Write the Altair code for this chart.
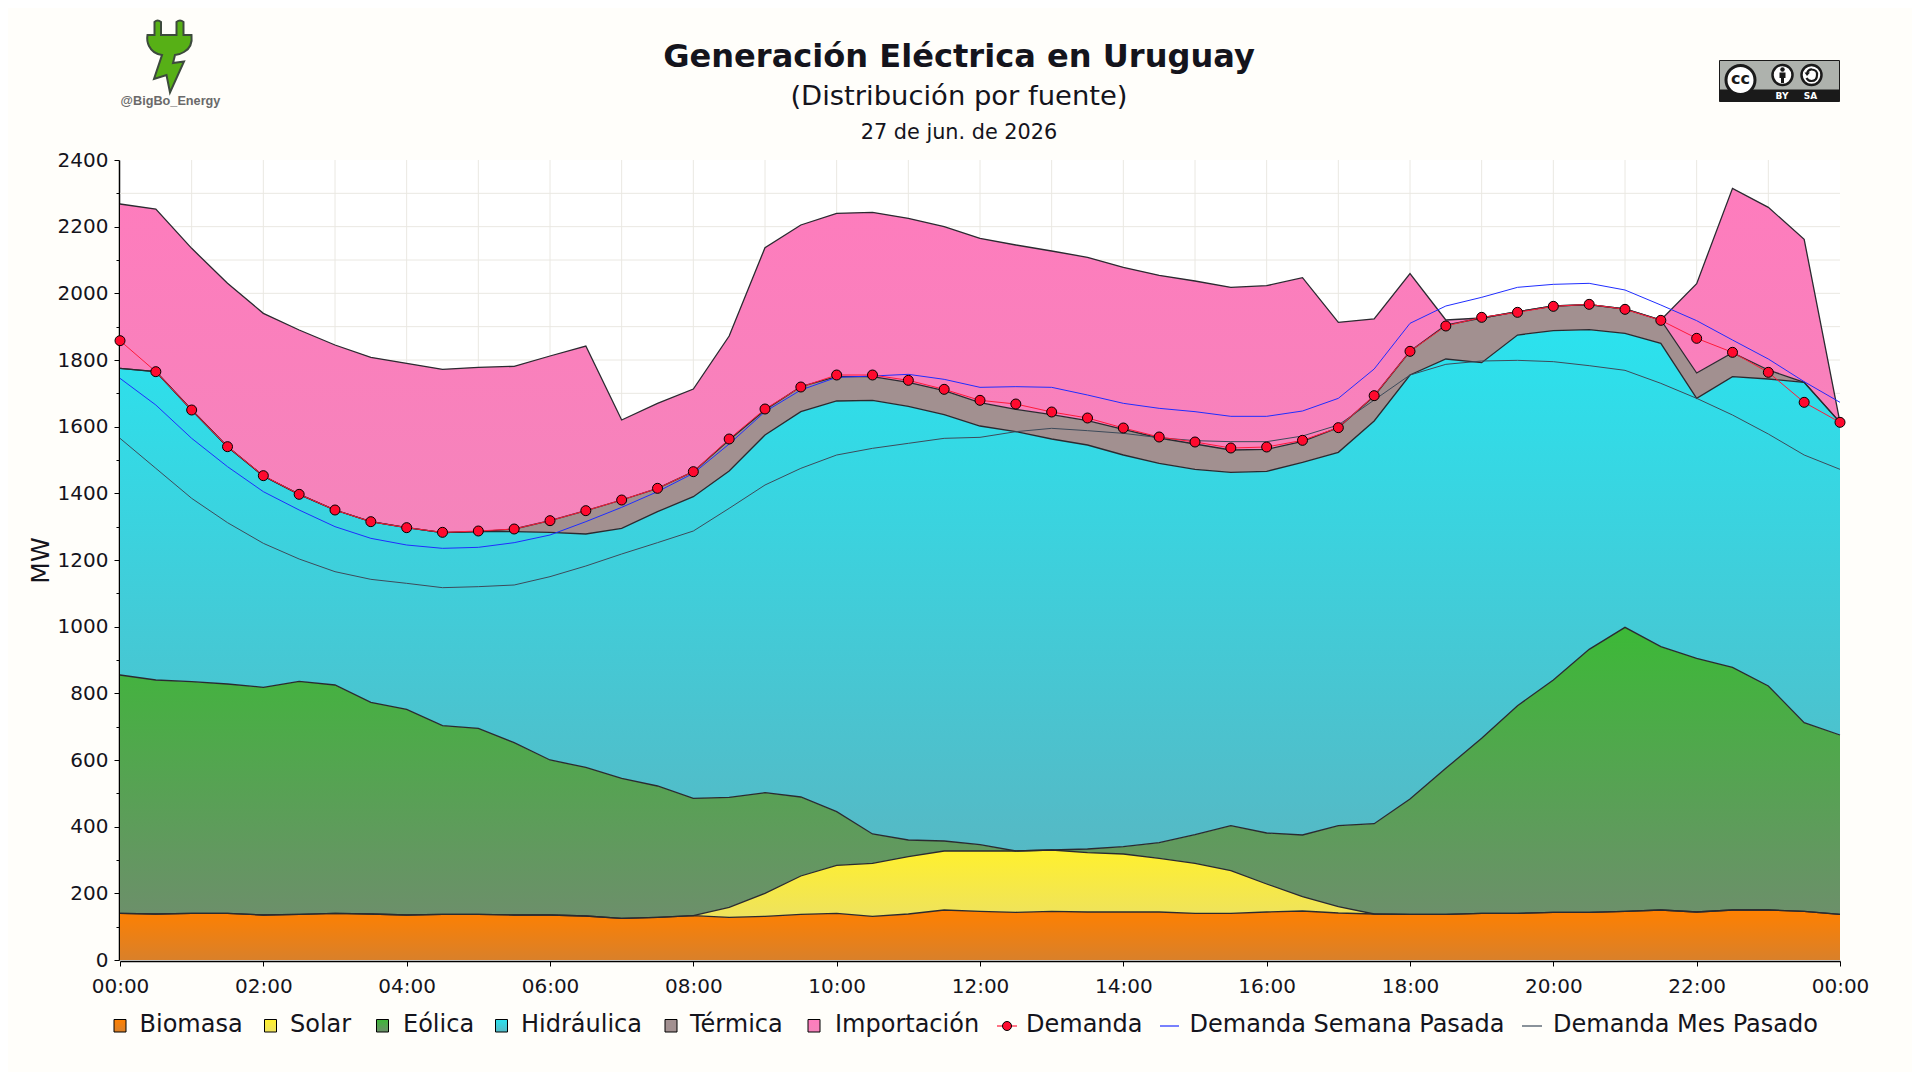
import re
import altair as alt
import pandas as pd

FONT = "DejaVu Sans"
BG = "#fffefa"
INK = "#14141c"
PLOT_W, PLOT_H = 1720, 800
LEFT, TOP = 120, 160   # page position of the plot area

# Values, half-hourly, 00:00 to 24:00. Stacked areas are given by their upper edge (MW).
biomasa_top = [140,138,140,140,135,137,140,138,135,137,137,135,135,132,125,128,133,128,131,137,140,131,138,150,146,143,146,144,144,144,140,140,144,147,141,138,137,137,140,140,143,143,146,150,144,150,150,146,137]
solar_top = [140,138,140,140,135,137,140,138,135,137,137,135,135,132,125,128,133,158,200,252,284,290,310,327,327,327,330,322,318,305,290,268,228,190,160,138,137,137,140,140,143,143,146,150,144,150,150,146,137]
eolica_top = [855,840,835,828,818,836,825,773,752,703,695,652,600,578,545,522,485,488,502,489,445,378,360,357,346,327,330,333,340,352,376,403,381,375,403,409,483,575,665,763,840,932,998,940,905,878,822,712,675]
hidraulica_top = [1775,1765,1650,1540,1452,1397,1350,1315,1297,1282,1285,1285,1283,1278,1295,1345,1390,1467,1575,1645,1677,1679,1661,1636,1602,1585,1563,1545,1515,1490,1472,1463,1466,1493,1523,1617,1755,1803,1792,1875,1888,1891,1880,1850,1685,1750,1743,1733,1613]
termica_top = [1775,1765,1650,1540,1452,1397,1350,1315,1297,1282,1285,1293,1318,1348,1380,1415,1465,1560,1650,1720,1750,1750,1733,1708,1672,1652,1636,1618,1592,1566,1548,1530,1532,1556,1597,1692,1826,1905,1926,1945,1962,1966,1953,1920,1761,1822,1770,1733,1613]
importacion_top = [2268,2253,2135,2030,1940,1890,1845,1808,1790,1772,1778,1781,1812,1842,1620,1670,1713,1872,2137,2205,2240,2243,2225,2200,2165,2145,2127,2108,2078,2054,2037,2018,2023,2047,1913,1923,2059,1920,1926,1945,1962,1966,1953,1920,2029,2315,2258,2162,1613]
demanda = [1858,1765,1650,1540,1453,1397,1350,1315,1297,1283,1287,1293,1318,1348,1380,1415,1465,1563,1653,1719,1755,1755,1739,1712,1679,1668,1644,1626,1596,1569,1554,1536,1539,1559,1597,1693,1826,1902,1928,1943,1961,1967,1952,1919,1865,1823,1763,1673,1613]
semana_pasada = [1745,1665,1565,1480,1405,1350,1300,1265,1245,1235,1238,1252,1275,1315,1358,1405,1460,1548,1645,1710,1748,1752,1757,1742,1718,1720,1718,1695,1670,1655,1645,1631,1631,1647,1685,1773,1910,1962,1988,2018,2027,2030,2010,1965,1918,1860,1803,1735,1673]
mes_pasado = [1565,1475,1385,1312,1250,1203,1165,1142,1130,1117,1120,1125,1150,1182,1218,1252,1287,1355,1425,1475,1515,1535,1550,1565,1568,1585,1595,1588,1580,1567,1558,1555,1555,1572,1605,1680,1755,1787,1797,1799,1795,1783,1769,1730,1685,1635,1578,1515,1472]

legend_labels = ["Biomasa","Solar","Eólica","Hidráulica","Térmica","Importación","Demanda","Demanda Semana Pasada","Demanda Mes Pasado"]
title_text = "Generación Eléctrica en Uruguay"
subtitle_text = "(Distribución por fuente)"
date_text = "27 de jun. de 2026"
logo_text = "@BigBo_Energy"

times = pd.date_range("2026-06-27 00:00", periods=49, freq="30min")
df = pd.DataFrame({
    "t": times, "biomasa": biomasa_top, "solar": solar_top, "eolica": eolica_top,
    "hidraulica": hidraulica_top, "termica": termica_top, "importacion": importacion_top,
    "demanda": demanda, "semana": semana_pasada, "mes": mes_pasado,
})
df["base"] = 0
df["t"] = df["t"].dt.strftime("%Y-%m-%dT%H:%M:%S")


def dt(h):
    return alt.DateTime(year=2026, month=6, date=27 + h // 24, hours=h % 24)


x_enc = alt.X("t:T", title=None,
              scale=alt.Scale(domain=[dt(0), dt(24)], nice=False),
              axis=alt.Axis(values=[dt(h) for h in range(0, 25, 2)], format="%H:%M", grid=False,
                            offset=1, tickSize=5, tickColor="#000", domainColor="#000", domainWidth=1.5,
                            labelFont=FONT, labelFontSize=20, labelColor=INK, labelPadding=10.5,
                            labelOverlap=False, labelFlush=False))
y_axis = alt.Axis(values=list(range(0, 2401, 100)),
                  labelExpr="datum.value % 200 == 0 ? '' + datum.value : ''",
                  grid=False, offset=1, tickColor="#000", domainColor="#000", domainWidth=1.5,
                  tickSize={"condition": {"test": "datum.value % 200 == 0", "value": 5}, "value": 3},
                  labelFont=FONT, labelFontSize=20, labelColor=INK, labelPadding=6,
                  labelOverlap=False, labelFlush=False,
                  titleFont=FONT, titleFontSize=25, titleFontWeight="normal", titleColor=INK,
                  titlePadding=4)


def yl(f):
    return alt.Y(f"{f}:Q", title="MW", scale=alt.Scale(domain=[0, 2400], nice=False), axis=y_axis)


grid_h = alt.Chart(pd.DataFrame({"v": list(range(100, 2400, 100))})).mark_rule(color="#eae8e2", strokeWidth=1).encode(y=yl("v"))
grid_v = alt.Chart(pd.DataFrame({"t": [f"2026-06-27T{h:02d}:00:00" for h in range(1, 24)]})).mark_rule(color="#eae8e2", strokeWidth=1).encode(x=x_enc)


def grad(top, bottom):
    return alt.Gradient(gradient="linear", x1=0, x2=0, y1=0, y2=1,
                        stops=[alt.GradientStop(color=top, offset=0), alt.GradientStop(color=bottom, offset=1)])


series = [
    ("biomasa", "base", "#ff8000", "#d9802a"),
    ("solar", "biomasa", "#fff02e", "#eee25e"),
    ("eolica", "solar", "#3cb937", "#6d8f6b"),
    ("hidraulica", "eolica", "#2be2ee", "#55b9c5"),
    ("termica", "hidraulica", "#a29090", "#a29090"),
    ("importacion", "termica", "#fe7cbd", "#f584bb"),
]
layers = [grid_h, grid_v]
base = alt.Chart(df)
for top, low, c1, c2 in series:
    layers.append(base.mark_area(color=grad(c1, c2)).encode(x=x_enc, y=yl(top), y2=alt.Y2(f"{low}:Q")))
for top, _, _, _ in series:
    layers.append(base.mark_line(color="#2a2a30", strokeWidth=1.3).encode(x=x_enc, y=yl(top)))

layers.append(base.mark_line(color="#3d4a5a", strokeWidth=1).encode(x=x_enc, y=yl("mes")))
layers.append(base.mark_line(color="#1f2dff", strokeWidth=1).encode(x=x_enc, y=yl("semana")))
layers.append(base.mark_line(color="#ff1a3a", strokeWidth=1).encode(x=x_enc, y=yl("demanda")))
layers.append(base.mark_point(shape="circle", filled=True, fill="#ff0a2e", stroke="#000", strokeWidth=1, opacity=1, size=100, clip=False).encode(x=x_enc, y=yl("demanda")))

one = alt.Data(values=[{"a": 1}])


def pos(x, y):
    return dict(x=alt.value(x - LEFT), y=alt.value(y - TOP))


def txt(s, x, y, size, **kw):
    kw.setdefault("font", FONT)
    kw.setdefault("color", INK)
    kw.setdefault("baseline", "middle")
    kw.setdefault("align", "center")
    return alt.Chart(one).mark_text(fontSize=size, **kw).encode(text=alt.value(s), **pos(x, y))


def rect(x0, x1, y0, y1, **kw):
    return alt.Chart(one).mark_rect(**kw).encode(x=alt.value(x0 - LEFT), x2=alt.value(x1 - LEFT), y=alt.value(y0 - TOP), y2=alt.value(y1 - TOP))


def hline(x0, x1, y, color):
    return alt.Chart(one).mark_rule(color=color, strokeWidth=1.2).encode(x=alt.value(x0 - LEFT), x2=alt.value(x1 - LEFT), y=alt.value(y - TOP))


def dot(x, y, d, fill, stroke="#000", sw=1):
    return alt.Chart(one).mark_point(shape="circle", filled=True, fill=fill, stroke=stroke, strokeWidth=sw, opacity=1, size=d * d).encode(**pos(x, y))


def glyph(path, cx, cy, r, **kw):
    def f(m):
        return f"{(float(m[1]) - cx) / r:.4f},{(float(m[2]) - cy) / r:.4f}"
    shape = re.sub(r"(-?\d+\.?\d*),(-?\d+\.?\d*)", f, path)
    return alt.Chart(one).mark_point(shape=shape, opacity=1, size=(2 * r) ** 2, **kw).encode(**pos(cx, cy))


# legend row
LEG_Y = 1026
swatches = [(114, "#ff8000", "#d9802a", 139.5), (264.5, "#fff02e", "#eee25e", 290), (376.5, "#3cb937", "#6d8f6b", 403),
            (495.5, "#2be2ee", "#55b9c5", 521), (665, "#a29090", "#a29090", 690), (808, "#fe7cbd", "#f584bb", 835)]
for i, (sx, c1, c2, tx) in enumerate(swatches):
    layers.append(rect(sx, sx + 12, LEG_Y - 6.5, LEG_Y + 6, color=grad(c1, c2), stroke="#000", strokeWidth=1))
    layers.append(txt(legend_labels[i], tx, LEG_Y - 1, 24, align="left"))
layers += [hline(997, 1017, LEG_Y, "#ff1a3a"), dot(1007, LEG_Y, 9, "#ff0a2e"),
           txt(legend_labels[6], 1026, LEG_Y - 1, 24, align="left"),
           hline(1160, 1179, LEG_Y, "#1f2dff"), txt(legend_labels[7], 1189.5, LEG_Y - 1, 24, align="left"),
           hline(1522, 1542, LEG_Y, "#3d4a5a"), txt(legend_labels[8], 1553, LEG_Y - 1, 24, align="left")]

# date line under the subtitle
layers.append(txt(date_text, 959, 133, 20.8))

# plug logo
plug = ("M154.5,35 L154.5,22 Q157.5,19 161,22 L161,35 L176.5,35 L176.5,22 Q180,19 183.5,22 L183.5,35 L191.5,35 "
        "Q193,47 184,52 Q179,55 175,55 L173,63 L184,61.5 L170,92.5 L166.5,75 L154,79 L162,55 Q153,54 149,46 Q146.5,41 147.5,35 Z")
layers.append(glyph(plug, 169.5, 56, 40, filled=True, fill="#57b016", stroke="#3d4a3d", strokeWidth=2))
layers.append(txt(logo_text, 170.5, 100.5, 12.7, font="Liberation Sans", fontWeight="bold", color="#6a6a6a"))

# licence badge
layers += [rect(1719.5, 1839.5, 60.5, 101.5, color="#aeb2ad", stroke="#1a1a1a", strokeWidth=1),
           rect(1719.5, 1839.5, 89.5, 101.5, color="#1a1a1a"),
           dot(1740.5, 80, 29, "#ffffff", "#1a1a1a", 3),
           txt("cc", 1740.5, 78.5, 16, fontWeight="bold", color="#1a1a1a"),
           dot(1782.5, 75, 20, "#ffffff", "#1a1a1a", 2.5),
           dot(1782.5, 69.5, 4.5, "#1a1a1a", "#1a1a1a", 0),
           glyph("M1779.5,72.5 L1785.5,72.5 L1785.5,78 L1784,78 L1784,83 L1781,83 L1781,78 L1779.5,78 Z", 1782.5, 77, 7, filled=True, fill="#1a1a1a", strokeWidth=0),
           dot(1811.5, 75, 20, "#ffffff", "#1a1a1a", 2.5),
           glyph("M1807,73 Q1809,69 1812,69.5 Q1817.5,70 1817,75 Q1817,81 1811.5,81 Q1808,81 1806.5,78", 1811.5, 75, 8, filled=False, stroke="#1a1a1a", strokeWidth=2.2),
           glyph("M1804.5,72.5 L1810,72.5 L1807,76 Z", 1811.5, 75, 8, filled=True, fill="#1a1a1a", strokeWidth=0),
           txt("BY", 1782, 96, 9, fontWeight="bold", color="#ffffff"),
           txt("SA", 1810.5, 96, 9, fontWeight="bold", color="#ffffff")]

chart = alt.layer(*layers).resolve_scale(x="shared", y="shared").properties(
    width=PLOT_W, height=PLOT_H,
    autosize=alt.AutoSizeParams(type="none"),
    padding={"left": 112, "top": 152, "right": 72, "bottom": 112},
    background=BG,
    title=alt.TitleParams(text=title_text, subtitle=subtitle_text, anchor="middle", frame="group", dx=-21,
                          offset=-95, font=FONT, fontSize=32.1, fontWeight="bold", color=INK,
                          subtitleFont=FONT, subtitleFontSize=27.4, subtitleColor=INK, subtitlePadding=9.5),
).configure_view(fill="#ffffff", stroke=None)

chart.save("out.html", embed_options={"renderer": "svg", "actions": False})
